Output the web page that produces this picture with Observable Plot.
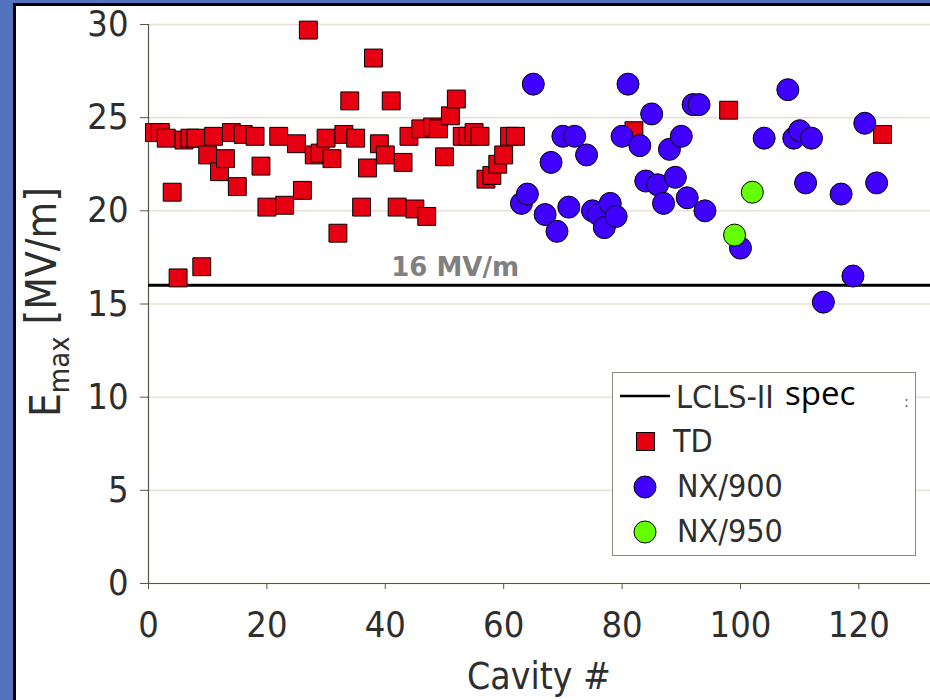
<!DOCTYPE html>
<html>
<head>
<meta charset="utf-8">
<script src="https://cdn.jsdelivr.net/npm/d3@7"></script>
<script src="https://cdn.jsdelivr.net/npm/@observablehq/plot@0.6"></script>
<style>
html,body{margin:0;padding:0;}
body{width:930px;height:700px;background:#5473be;overflow:hidden;position:relative;font-family:"DejaVu Sans Condensed","DejaVu Sans",sans-serif;}
#panel{position:absolute;left:13px;top:3px;width:914px;height:694px;border-left:3px solid #000;border-top:3px solid #000;background:#fff;}
#chart{position:absolute;left:16px;top:6px;width:914px;height:694px;}
#legend{position:absolute;left:612px;top:372px;width:302px;height:182px;border:1px solid #8c8c82;background:#fff;}
#legend .item{position:absolute;white-space:nowrap;color:#2e2e2e;font-family:"DejaVu Sans Condensed","DejaVu Sans",sans-serif;font-stretch:condensed;font-size:32px;line-height:1;}
#legend svg{display:block;}
</style>
</head>
<body>
<div id="panel"></div>
<div id="chart"></div>
<div id="legend"></div>
<script>
// ---- data ----
const tdX = [1,2,3,4,5,6,7,8,9,10,11,12,13,14,15,16,18,19,20,22,23,25,26,27,28,29,30,31,32,33,34,35,36,37,38,39,40,41,42,43,44,45,46,47,48,49,50,51,52,53,54,55,56,57,58,59,60,61,62,82,98,124];
const tdY = [24.2,24.2,23.9,21.0,16.4,23.8,23.9,23.9,17.0,23.0,24.0,22.1,22.8,24.2,21.3,24.1,24.0,22.4,20.2,24.0,20.3,23.6,21.1,29.7,23.0,23.1,23.9,22.8,18.8,24.1,25.9,23.9,20.2,22.3,28.2,23.6,23.0,25.9,20.2,22.6,24.0,20.1,24.4,19.7,24.5,24.4,22.9,25.1,26.0,24.0,24.0,24.2,24.0,21.7,21.9,22.5,23.0,24.0,24.0,24.3,25.4,24.1];
const nx900X = [63,64,65,67,68,69,70,71,72,74,75,76,77,78,79,80,81,83,84,85,86,87,88,89,90,91,92,93,94,100,104,108,109,110,111,112,114,117,119,121,123];
const nx900Y = [20.4,20.9,26.8,19.8,22.6,18.9,24.0,20.2,24.0,23.0,20.0,19.8,19.1,20.4,19.7,24.0,26.8,23.5,21.6,25.2,21.4,20.4,23.3,21.8,24.0,20.7,25.7,25.7,20.0,18.0,23.9,26.5,23.9,24.3,21.5,23.9,15.1,20.9,16.5,24.7,21.5];
const nx950X = [99,102];
const nx950Y = [18.7,21.0];
const specValue = 16;
const specLabel = "16 MV/m";
const specLabelPos = {x: 41, y: 16.95};
const xTicks = [0,20,40,60,80,100,120];
const yTicks = [0,5,10,15,20,25,30];
const seriesNames = ["TD","NX/900","NX/950"];
const specName = "LCLS-II";
const specName2 = "spec";
const xTitle = "Cavity #";

// ---- tables ----
const td = tdX.map((x,i)=>({x, y: tdY[i]}));
const nx900 = nx900X.map((x,i)=>({x, y: nx900Y[i]}));
const nx950 = nx950X.map((x,i)=>({x, y: nx950Y[i]}));

const colors = {TD:"#e60012", "NX/900":"#4000ff", "NX/950":"#66ff00"};
const axisColor = "#2e2e2e";
const condensed = "'DejaVu Sans Condensed', 'DejaVu Sans', sans-serif";

const chart = Plot.plot({
  width: 914, height: 694,
  marginLeft: 132, marginRight: 0, marginTop: 18, marginBottom: 117,
  x: {domain: [0, 132.1]},
  y: {domain: [0, 30]},
  style: {fontFamily: condensed, color: axisColor, background: "transparent", overflow: "visible"},
  marks: [
    Plot.gridY(yTicks, {stroke: "#e6e2d3", strokeOpacity: 1, strokeWidth: 1.5}),
    Plot.axisY(yTicks, {tickSize: 8, tickPadding: 12, fontSize: 36, fontFamily: condensed, label: null, stroke: "#55554a"}),
    Plot.axisX(xTicks, {tickSize: 6, tickPadding: 22, fontSize: 36, fontFamily: condensed, label: null, stroke: "#55554a"}),
    Plot.ruleX([0], {stroke: "#55554a", strokeWidth: 1.2}),
    Plot.ruleY([0], {stroke: "#55554a", strokeWidth: 1.2}),
    Plot.ruleY([specValue], {stroke: "#000", strokeWidth: 3}),
    Plot.text([specLabelPos], {x: "x", y: "y", text: () => specLabel, textAnchor: "start", lineAnchor: "middle", fontSize: 26, fontWeight: "bold", fontFamily: "DejaVu Sans", fill: "#808080"}),
    Plot.dot(td, {x: "x", y: "y", symbol: "square", r: 10.1, fill: colors.TD, stroke: "#000", strokeWidth: 1}),
    Plot.dot(nx900, {x: "x", y: "y", r: 11, fill: colors["NX/900"], stroke: "#000", strokeWidth: 1}),
    Plot.dot(nx950, {x: "x", y: "y", r: 11, fill: colors["NX/950"], stroke: "#000", strokeWidth: 1})
  ]
});
document.getElementById("chart").appendChild(chart);

// axis titles
const svg = d3.select(chart);
const xr = chart.scale("x").range;
svg.append("text")
  .attr("x", (xr[0] + xr[1]) / 2).attr("y", 670).attr("dy", "0.35em")
  .attr("text-anchor", "middle").attr("font-size", 37).attr("fill", axisColor)
  .attr("font-family", condensed)
  .text(xTitle);
const yl = svg.append("text")
  .attr("transform", "translate(44,296) rotate(-90)")
  .attr("text-anchor", "middle").attr("font-size", 42).attr("fill", axisColor)
  .attr("font-family", condensed);
yl.append("tspan").text("E");
yl.append("tspan").attr("font-size", 29).attr("dy", "0.3em").text("max");
yl.append("tspan").attr("dy", "-0.3em").text(" [MV/m]");

// legend
const lg = document.getElementById("legend");
function add(html, style){ const d = document.createElement("div"); d.className = "item"; d.innerHTML = html; Object.assign(d.style, style); lg.appendChild(d); return d; }
add('<svg width="54" height="6"><line x1="2" x2="52" y1="3" y2="3" stroke="#000" stroke-width="2.5"/></svg>', {left: "5px", top: "20px"});
add(specName, {left: "63px", top: "8px"});
add(specName2, {left: "172px", top: "3px", fontSize: "33px", fontFamily: "'Open Sans'", fontStretch: "normal", color: "#000"});
add(":", {left: "291px", top: "21px", fontSize: "16px", color: "#666"});
const rows = [{name: seriesNames[0], top: 69, sym: "square"}, {name: seriesNames[1], top: 114, sym: "circle"}, {name: seriesNames[2], top: 159, sym: "circle"}];
rows.forEach(r => {
  const c = colors[r.name];
  const shape = r.sym === "square"
    ? `<svg width="24" height="24"><rect x="2.5" y="2.5" width="18" height="18" fill="${c}" stroke="#000" stroke-width="1"/></svg>`
    : `<svg width="24" height="24"><circle cx="12" cy="12" r="11" fill="${c}" stroke="#000" stroke-width="1"/></svg>`;
  add(shape, {left: r.sym === "square" ? "21px" : "20px", top: (r.top - 12) + "px"});
  add(r.name, {left: r.sym === "square" ? "60px" : "64px", top: (r.top - 17) + "px"});
});
</script>
</body>
</html>
